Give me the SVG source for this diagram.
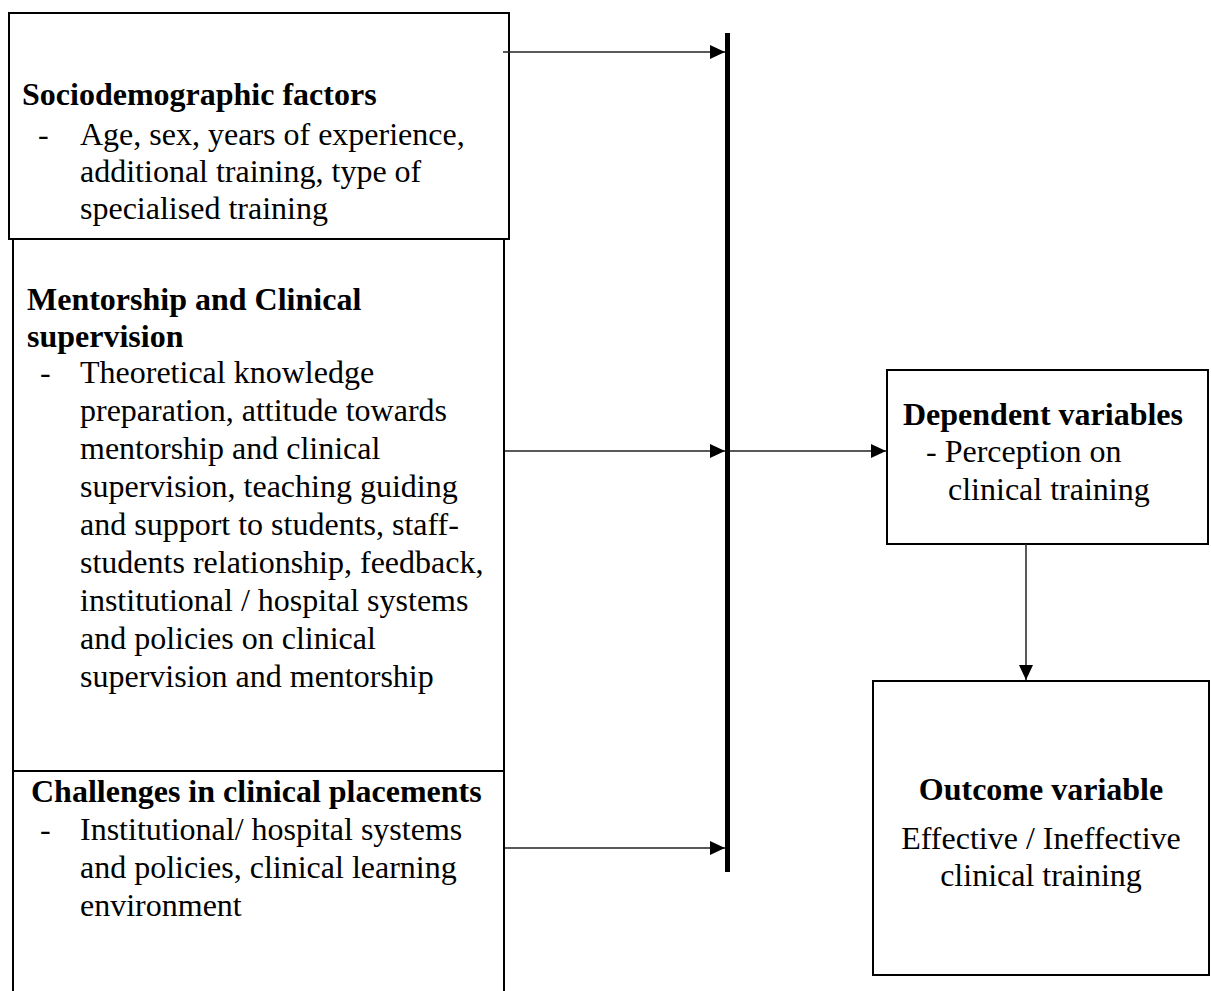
<svg xmlns="http://www.w3.org/2000/svg" width="1211" height="991" viewBox="0 0 1211 991">
<style>
.box{fill:#fff;stroke:#000;stroke-width:2}
.t{font-family:"Liberation Serif","Times New Roman",serif;font-size:32px;fill:#000}
.b{font-weight:bold}
.c{text-anchor:middle}
.conn{stroke:#222;stroke-width:1.5;fill:none}
</style>
<defs>
<marker id="ah" markerUnits="userSpaceOnUse" markerWidth="15" markerHeight="14" refX="15" refY="7" orient="auto">
<path d="M0,0 L15,7 L0,14 z" fill="#000"/>
</marker>
</defs>
<rect width="1211" height="991" fill="#fff"/>
<g id="mentorship">
<rect class="box" x="13" y="239" width="491" height="770"/>
<text class="t b" x="27" y="310">Mentorship and Clinical</text>
<text class="t b" x="27" y="347">supervision</text>
<text class="t" x="40" y="383">-</text>
<text class="t" x="80" y="383">Theoretical knowledge</text>
<text class="t" x="80" y="421">preparation, attitude towards</text>
<text class="t" x="80" y="459">mentorship and clinical</text>
<text class="t" x="80" y="497">supervision, teaching guiding</text>
<text class="t" x="80" y="535">and support to students, staff-</text>
<text class="t" x="80" y="573">students relationship, feedback,</text>
<text class="t" x="80" y="611">institutional / hospital systems</text>
<text class="t" x="80" y="649">and policies on clinical</text>
<text class="t" x="80" y="687">supervision and mentorship</text>
</g>
<g id="challenges">
<line x1="13" y1="771" x2="504" y2="771" stroke="#000" stroke-width="2"/>
<text class="t b" x="31" y="802">Challenges in clinical placements</text>
<text class="t" x="40" y="840">-</text>
<text class="t" x="80" y="840">Institutional/ hospital systems</text>
<text class="t" x="80" y="878">and policies, clinical learning</text>
<text class="t" x="80" y="916">environment</text>
</g>
<g id="sociodemographic">
<rect class="box" x="9" y="13" width="500" height="226"/>
<text class="t b" x="22" y="105">Sociodemographic factors</text>
<text class="t" x="38" y="145">-</text>
<text class="t" x="80" y="145">Age, sex, years of experience,</text>
<text class="t" x="80" y="182">additional training, type of</text>
<text class="t" x="80" y="219">specialised training</text>
</g>
<g id="bar">
<rect x="725" y="33" width="5" height="839" fill="#000"/>
</g>
<g id="dependent">
<rect class="box" x="887" y="370" width="321" height="174"/>
<text class="t b" x="903" y="425">Dependent variables</text>
<text class="t" x="926" y="462">- Perception on</text>
<text class="t" x="948" y="500">clinical training</text>
</g>
<g id="outcome">
<rect class="box" x="873" y="681" width="336" height="294"/>
<text class="t b c" x="1041" y="800">Outcome variable</text>
<text class="t c" x="1041" y="849">Effective / Ineffective</text>
<text class="t c" x="1041" y="886">clinical training</text>
</g>
<g id="connectors">
<line class="conn" x1="503" y1="52" x2="725" y2="52" marker-end="url(#ah)"/>
<line class="conn" x1="505" y1="451" x2="725" y2="451" marker-end="url(#ah)"/>
<line class="conn" x1="505" y1="848" x2="725" y2="848" marker-end="url(#ah)"/>
<line class="conn" x1="730" y1="451" x2="886" y2="451" marker-end="url(#ah)"/>
<line class="conn" x1="1026" y1="544" x2="1026" y2="680" marker-end="url(#ah)"/>
</g>
</svg>
